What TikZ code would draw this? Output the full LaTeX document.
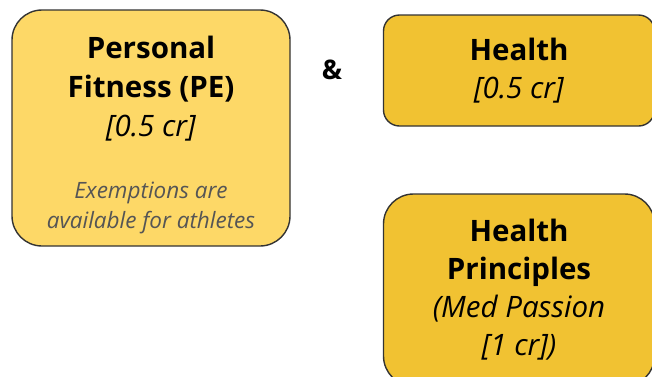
\documentclass[tikz,border=0pt]{standalone}
\usepackage{fontspec}
\setmainfont{Open Sans}
\definecolor{pecol}{HTML}{FDD867}
\definecolor{healthcol}{HTML}{F1C232}
\definecolor{edgecol}{HTML}{333333}
\definecolor{notecol}{HTML}{555555}
\newcommand{\notetext}[1]{\textcolor{notecol}{\fontsize{22.5}{29}\selectfont\itshape #1}}
\begin{document}
\begin{tikzpicture}[x=1pt,y=-1pt,
    course/.style={draw=edgecol, line width=1.4pt, align=center, inner sep=0pt, text=black},
    title/.style={font=\fontsize{29.5}{38}\selectfont}]
    \useasboundingbox (0,0) rectangle (652,376);
    \clip (0,0) rectangle (652,376);
    \node[course, fill=pecol, rounded corners=30pt, minimum width=278pt, minimum height=236pt] (pe) at (151,128) {};
    \node[title, align=center, inner sep=0pt] (petext) at ([yshift=-6.5pt]pe.center)
          {\textbf{Personal}\\[1pt] \textbf{Fitness (PE)}\\[1pt] \textit{[0.5 cr]}\\[24pt]
          \notetext{Exemptions are}\\[-8pt] \notetext{available for athletes}};
    \node[font=\bfseries\fontsize{27}{30}\selectfont] (and) at (332,70) {\&};
    \node[course, fill=healthcol, rounded corners=16pt, minimum width=271pt, minimum height=111pt,
          title] (health) at (519,70.5) {\textbf{Health}\\ \textit{[0.5 cr]}};
    \node[course, fill=healthcol, rounded corners=30pt, minimum width=271pt, minimum height=192pt,
          title] (hp) at (519,290) {\textbf{Health}\\ \textbf{Principles}\\ \textit{(Med Passion}\\ \textit{[1 cr])}};
\end{tikzpicture}
\end{document}
